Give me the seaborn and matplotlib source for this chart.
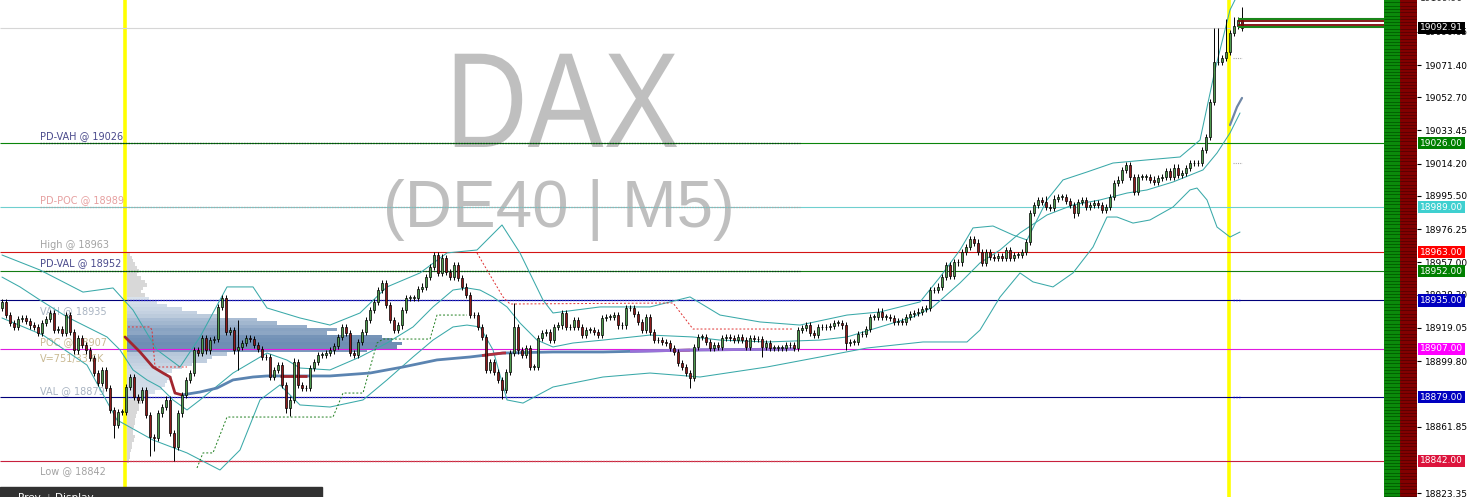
import numpy as np
import matplotlib
matplotlib.use("Agg")
import matplotlib.pyplot as plt
import seaborn as sns
from matplotlib.patches import Rectangle
from matplotlib.colors import LinearSegmentedColormap, Normalize
from matplotlib.transforms import blended_transform_factory, offset_copy, Affine2D
from matplotlib.patheffects import AbstractPathEffect

sns.set_style("white")
plt.rcParams['font.family'] = ['DejaVu Sans']

# ---- candles (DE40, M5), closes; open = previous close
first_open = 18930.5
close = [
    18934, 18926.5, 18922, 18919.5, 18924, 18925, 18923, 18920.5, 18919.5, 18916,
    18922, 18924, 18927.5, 18918, 18918.5, 18916, 18926.5, 18916.5, 18906, 18913,
    18909, 18906, 18901.5, 18893, 18887, 18894.5, 18884, 18871.5, 18863, 18870.5,
    18870.5, 18885, 18890.5, 18879, 18877.5, 18883, 18868.5, 18856, 18855.5, 18869.5,
    18873, 18877.5, 18858, 18850, 18869.5, 18880, 18889, 18893, 18906, 18904.5,
    18913, 18906, 18912,
    18912.5, 18931, 18936.5, 18916.5, 18918, 18906, 18908, 18910.5, 18913, 18912.5,
    18909, 18907, 18902, 18902, 18890.5, 18894.5, 18897.5, 18886, 18872.5, 18877.5,
    18899.5, 18886, 18884, 18884, 18896, 18899.5, 18903.5, 18903.5, 18904.5, 18906,
    18908.5, 18914, 18919.5, 18916, 18904.5, 18903.5, 18911, 18916.5, 18923.5, 18929.5,
    18934, 18941, 18945, 18932.5, 18923.5, 18918, 18920.5, 18929.5, 18936.5, 18936.5,
    18936.5, 18941.5, 18943, 18948.5, 18954.5, 18961.5, 18951, 18959.5, 18951.5, 18948.5,
    18955.5, 18948, 18943, 18938, 18926.5, 18926.5, 18919.5,
    18914, 18894.5, 18899.5, 18893.5, 18889, 18883, 18893.5, 18904.5, 18919.5, 18906,
    18903.5, 18907.5, 18896.5, 18896.5, 18913, 18916, 18916.5, 18912, 18919.5, 18920.5,
    18927.5, 18919.5, 18919.5, 18923.5, 18919.5, 18915, 18918, 18918, 18916.5, 18915,
    18925, 18925.5, 18925.5, 18926.5, 18920.5, 18920.5, 18930.5, 18930.5, 18927, 18922.5,
    18918, 18925.5, 18916.5, 18912, 18912, 18911, 18910.5, 18907.5, 18905, 18898.5,
    18896.5, 18893, 18890, 18908, 18914, 18914, 18911, 18907.5, 18909, 18908,
    18913, 18914, 18913, 18912, 18914, 18912, 18908, 18913, 18912.5, 18912.5,
    18908, 18910.5, 18907.5, 18907.5, 18907.5, 18907.5, 18909, 18909, 18907.5, 18918,
    18919, 18920.5, 18916, 18915, 18919.5,
    18919.5, 18919.5, 18920, 18922, 18922, 18920.5, 18910.5, 18911, 18911, 18915.5,
    18915.5, 18918.5, 18925.5, 18925.5, 18928.5, 18925.5, 18925.5, 18925, 18922.5, 18923,
    18922.5, 18925.5, 18927, 18927.5, 18928.5, 18930, 18930.5, 18941, 18941, 18943,
    18948.5, 18955.5, 18949, 18957, 18957, 18963, 18966, 18970.5, 18968.5, 18963,
    18956.5, 18963, 18960, 18959.5, 18960.5, 18959.5, 18964, 18959.5, 18961.5, 18961.5,
    18963, 18969, 18985.5, 18990.5, 18993, 18992, 18989, 18988.5, 18994, 18995,
    18995, 18992.5, 18990.5, 18985.5, 18992, 18993, 18989, 18990.5, 18991.5, 18990.5,
    18987.5, 18989, 18995, 19003, 19005, 19010.5, 19013.5, 19006.5, 18998, 19006.5,
    19006.5, 19006.5, 19005, 19003.5, 19006, 19006.5, 19010, 19006.5, 19012, 19007.5,
    19009, 19011.5, 19014.5, 19014.5, 19014.5, 19022,
    19029.5, 19050, 19073, 19073, 19075.5, 19079, 19090, 19094, 19097.5, 19093,
]
# long wicks that stand out (bar index: price); other wicks are short
wick_high = {59: 18923.5, 73: 18901.5, 108: 18963, 110: 18962, 128: 18933.5,
             242: 18972.5, 261: 18995.5, 303: 19093, 304: 19093, 306: 19098,
             308: 19099, 310: 19105}
wick_low = {28: 18855, 37: 18845, 38: 18848, 43: 18842, 59: 18894.5, 71: 18869.5,
            72: 18868, 125: 18878, 172: 18884, 190: 18902, 211: 18906, 268: 18983,
            302: 19028}

# ---- bollinger bands (bar index, price)
bb_up_x = [0, 9.5, 20.25, 27.75, 32.75, 38.75, 44.5, 49.5, 56.25, 62.75, 66.25, 74.5, 82,
           89.5, 96.25, 104.5, 111.25, 118.75, 125, 129.5, 135.25, 137.75, 149.5, 162, 172,
           179.5, 189.5, 199.5, 211.25, 219.5, 229.5, 234.5, 239.5, 242.75, 247.75, 252.75,
           256.25, 261.25, 265.25, 271.25, 277.75, 286.25, 294.5, 299.5, 303.25, 307, 309.5]
bb_up = [18961.3, 18952.6, 18939.8, 18942.2, 18929.4, 18906.3, 18896.4, 18913.8, 18942.8,
         18942.8, 18930.6, 18924.8, 18920.7, 18927.7, 18942.8, 18950.9, 18962.5, 18964.2,
         18978.7, 18962.5, 18935.2, 18927.7, 18931.2, 18931.2, 18937, 18926.5, 18922.5,
         18920.7, 18926.5, 18928.3, 18934.1, 18948.5, 18964.2, 18977, 18978.1, 18972.9,
         18970, 18993.2, 19004.8, 19009.4, 19014.6, 19016.4, 19018.1, 19027.9, 19068.5,
         19103.3, 19114.9]
bb_mid_x = [0, 4.5, 9.5, 16.25, 21.25, 26.25, 29.5, 32.75, 36.25, 39.5, 42.75, 46.25, 49.5,
            57.75, 66.25, 71.25, 74.5, 82, 89.5, 96.25, 102.75, 107.75, 112.75, 116.25, 119.5,
            122.75, 126.25, 129.5, 133.75, 137.75, 142.75, 150.25, 162, 172.75, 179.5, 191.25,
            204.5, 211.25, 219.5, 227.75, 232.75, 239.5, 244.5, 249.5, 254.5, 261.25, 267.75,
            274.5, 281.25, 286.25, 292.75, 300.25, 303.75, 307, 309.5]
bb_mid = [18948.5, 18942.8, 18935.2, 18925.4, 18919.6, 18913.8, 18906.3, 18894.7, 18888.9,
          18884.8, 18877.3, 18871.5, 18877.3, 18892.9, 18904.5, 18900.4, 18895.8, 18894.7,
          18902.2, 18910.3, 18919.6, 18931.2, 18941, 18942.2, 18941, 18937, 18931.2, 18921.9,
          18912, 18908, 18910.3, 18912, 18914.9, 18913.8, 18912, 18910.9, 18912, 18913.8,
          18919.6, 18925.4, 18931.2, 18945.1, 18956.7, 18964.2, 18974.1, 18984.5, 18990.3,
          18993.2, 18997.2, 18999, 19003.6, 19010.6, 19020.4, 19032, 19043.6]
bb_lo_x = [0, 10.25, 21.25, 28.75, 37.75, 46.25, 54.5, 59.5, 64.5, 69.5, 74.5, 82, 90.25,
           96.25, 102.75, 107.75, 112.75, 116.25, 119.5, 122.75, 126.25, 130.25, 137.75,
           150.25, 162, 174.5, 191.25, 204.5, 216.25, 230.25, 241.25, 244.5, 249.5, 254.5,
           257.75, 262.75, 267.75, 272.75, 276.25, 278.75, 282.75, 287, 292.75, 297, 298.75,
           301.25, 303.75, 307, 309.5]
bb_lo = [18924.8, 18914.9, 18897.5, 18865.7, 18854.1, 18846.6, 18836.7, 18848.3, 18877.3,
         18886, 18874.4, 18873.2, 18877.3, 18888.9, 18902.2, 18912, 18919.6, 18920.7, 18919.6,
         18906.3, 18877.3, 18875.5, 18884.8, 18890.6, 18892.9, 18890.6, 18896.4, 18902.2,
         18907.4, 18910.9, 18910.9, 18917.8, 18936.9, 18950.9, 18945.7, 18942.8, 18950.9,
         18965.9, 18983.3, 18983.3, 18979.8, 18981.6, 18989.1, 18999, 19000.1, 18993.2,
         18977.5, 18971.7, 18974.6]

# ---- session moving average
ma_red_x = [30.75, 34.5, 37.75, 40.25, 42, 43.25, 45]
ma_red = [18913.8, 18905.1, 18896.4, 18892.9, 18890.6, 18881.3, 18880.2]
ma_x = [45, 49.5, 53.75, 57.75, 62.75, 66.25, 82, 92, 100.25, 108.75, 117, 125.25, 137.75,
        150.25, 162, 174.5, 198.25]
ma = [18880.2, 18881.9, 18884.2, 18888.9, 18890.6, 18891.2, 18891.2, 18892.9, 18896.4,
      18900.5, 18902.2, 18904.5, 18905.1, 18905.1, 18905.7, 18906.3, 18906.8]
ma_tail_x = [307, 308.75, 310]
ma_tail = [19036.6, 19047.1, 19052.3]

# ---- trailing stop steps
stop_red1_x = [31.5, 37, 37.5, 38.25, 46.25]
stop_red1 = [18919.6, 18919.6, 18917.8, 18896.4, 18896.4]
stop_red2_x = [118.75, 121.25, 125.25, 127, 167.75, 172.75, 197.75]
stop_red2 = [18962.5, 18952.6, 18937, 18932.9, 18933.5, 18918.4, 18918.4]
stop_grn_x = [48.75, 50.25, 52.75, 56.25, 82.75, 85.25, 90.25, 93.75, 95.25, 107, 108.75, 116.25]
stop_grn = [18837.9, 18846.6, 18846.6, 18867.4, 18867.4, 18881.3, 18881.3, 18910.3, 18912.6,
            18912.6, 18926.5, 18926.5]

# ---- volume profile of the session (2-point bins, top to bottom)
prof_prices = list(range(18962, 18840, -2))
prof_volume = [3, 5, 6, 8, 10, 12, 10, 14, 18, 20, 16, 14, 18, 22, 30, 40, 55, 70, 90, 130,
               150, 180, 210, 200, 255, 265, 275, 270, 240, 100, 85, 80, 65, 55, 45, 40, 45,
               40, 38, 35, 28, 22, 15, 14, 12, 12, 10, 9, 8, 8, 7, 6, 6, 8, 7, 5, 5, 4, 3, 3, 2]
va_high, va_low = 18936, 18878

# ---- levels
levels = [19026, 18989, 18963, 18952, 18935, 18907, 18879, 18842]
level_colors = ['#0a850a', '#6fcfcf', '#d41414', '#137d13', '#00007a', '#e01ae0', '#00007a', '#c8203c']
level_box = ['#008000', '#3fd0d0', '#ff0000', '#008000', '#0000c0', '#ff00ff', '#0000c0', '#dc143c']
bid = 19092.91
labels = ['PD-VAH @ 19026', 'PD-POC @ 18989', 'High @ 18963', 'PD-VAL @ 18952', 'VAH @ 18935',
          'POC @ 18907', 'V=751/33.6K', 'VAL @ 18879', 'Low @ 18842']
label_colors = ['#4a4a8c', '#e6a0a0', '#a3a3a3', '#4a4a8c', '#a9b4c2', '#c9b992', '#c9b992',
                '#a9b4c2', '#a3a3a3']
label_y = [19030.3, 18993.2, 18967.1, 18956.4, 18928.8, 18910.9, 18901.3, 18882.5, 18835.8]
yticks = [18823.35, 18861.85, 18899.80, 18919.05, 18938.30, 18957.00,
          18976.25, 18995.50, 19014.20, 19033.45, 19052.70, 19071.40, 19090.65]

Y0, Y1 = 18821.06, 19109.07
X0, X1 = -0.5, 353.75


class Squeeze(AbstractPathEffect):
    """Narrow the watermark glyphs horizontally around a centre (display px)."""

    def __init__(self, sx, cx):
        super().__init__()
        self.sx, self.cx = sx, cx

    def draw_path(self, renderer, gc, tpath, affine, rgbFace=None):
        a = affine + Affine2D().translate(-self.cx, 0).scale(self.sx, 1).translate(self.cx, 0)
        renderer.draw_path(gc, tpath, a, rgbFace)


fig = plt.figure(figsize=(14.69, 4.97), dpi=100)
ax = fig.add_axes([0, 0, 1417 / 1469, 1])
ax.set_xlim(X0, X1)
ax.set_ylim(Y0, Y1)
for s in ax.spines.values():
    s.set_visible(False)

# background watermark
cx = ax.transData.transform((140.1, 19000))[0]
ax.text(140.1, 19023.9, 'DAX', ha='center', va='baseline', fontsize=97.6, color='#bfbfbf',
        family=['Liberation Sans', 'DejaVu Sans'], zorder=0.5,
        path_effects=[Squeeze(0.84, cx)])
ax.text(139.25, 18977.5, '(DE40 | M5)', ha='center', va='baseline', fontsize=47.2, color='#bfbfbf',
        family=['Liberation Sans', 'DejaVu Sans'], zorder=0.5)

# session separators
ax.axvline(30.75, color='#ffff00', lw=2.6, zorder=1)
ax.axvline(306.75, color='#ffff00', lw=2.6, zorder=1)

# profile
cmap = LinearSegmentedColormap.from_list('prof', ['#e1e8f0', '#6e8eb4'])
norm = Normalize(0, max(prof_volume))
pp = np.array(prof_prices, float)
pv = np.array(prof_volume, float)
in_va = (pp <= va_high) & (pp >= va_low)
cols = [cmap(norm(v)) if f else '#d8d8d8' for v, f in zip(pv, in_va)]
ax.barh(pp, pv * 0.25, left=31.25, height=2.0, color=cols, linewidth=0, zorder=2)

# level lines
ax.hlines(levels, X0, X1, colors=level_colors, lw=0.8, zorder=3)
ax.hlines(bid, X0, 307, colors='#d6d6d6', lw=0.8, zorder=3)
ax.hlines([19026, 18952], 9.5, 199.5, colors='#0b3b1b', lw=0.9, linestyles=(0, (1.2, 1.0)), zorder=3.1)
ax.hlines(18989, 9.5, 199.5, colors='#a8a8a8', lw=0.9, linestyles=(0, (1.2, 1.0)), zorder=3.1)
ax.hlines([18935, 18879], 31.25, 199.5, colors='#2a2ad0', lw=0.9, linestyles=(0, (1.2, 1.0)), zorder=3.1)
ax.hlines(18842, 31.25, 199.5, colors='#d04050', lw=0.9, linestyles=(0, (1.2, 1.0)), zorder=3.1)
ax.hlines([19075.5, 19014.6], 307.75, 310, colors='#aaaaaa', lw=0.8, linestyles=(0, (1, 1)), zorder=3)
ax.hlines([18935, 18879], 307.75, 309.5, colors='#0000cc', lw=1.0, linestyles=(0, (1, 1)), zorder=3)

# level labels
for t, c, y in zip(labels, label_colors, label_y):
    ax.text(9.5, y, t, fontsize=7, color=c, va='center', ha='left', zorder=3.5)

# bands, average, stops
for bx, by in [(bb_up_x, bb_up), (bb_mid_x, bb_mid), (bb_lo_x, bb_lo)]:
    sns.lineplot(x=bx, y=by, ax=ax, color='#3aa9a9', lw=0.75, sort=False, estimator=None, zorder=4)
sns.lineplot(x=ma_x, y=ma, ax=ax, color='#5b84b1', lw=2.0, sort=False, estimator=None, zorder=4.2)
sns.lineplot(x=ma_red_x, y=ma_red, ax=ax, color='#a2262e', lw=2.0, sort=False, estimator=None, zorder=4.2)
sns.lineplot(x=ma_tail_x, y=ma_tail, ax=ax, color='#6f87a6', lw=1.6, sort=False, estimator=None, zorder=4.2)
for a, b, col in [(69.5, 76.25, '#a2262e'), (120, 126, '#b03040'), (167.75, 172, '#c04050'),
                  (157, 198.25, '#9a70d8')]:
    xs = np.linspace(a, b, 8)
    ax.plot(xs, np.interp(xs, ma_x, ma), color=col, lw=2.0, zorder=4.3, solid_capstyle='butt')
for sx, sy, col in [(stop_red1_x, stop_red1, '#e03030'), (stop_red2_x, stop_red2, '#e03030'),
                    (stop_grn_x, stop_grn, '#1f7f1f')]:
    ax.plot(sx, sy, color=col, lw=0.7, dashes=(2, 2), zorder=4.1)

# candles
c = np.array(close, float)
o = np.r_[first_open, c[:-1]]
idx = np.arange(len(c))
top = np.maximum(o, c)
bot = np.minimum(o, c)
hi = top + 1.8
lo = bot - 1.8
for k, v in wick_high.items():
    hi[k] = v
for k, v in wick_low.items():
    lo[k] = v
up = c >= o
ax.vlines(idx, lo, hi, color='black', lw=0.7, zorder=5)
h = np.maximum(top - bot, 0.3)
ax.bar(idx[up], h[up], bottom=bot[up], width=0.72, color='#4f9b4f', edgecolor='black', lw=0.5, zorder=6)
ax.bar(idx[~up], h[~up], bottom=bot[~up], width=0.72, color='#8e1b1b', edgecolor='black', lw=0.5, zorder=6)

# bid / ask markers at the right
ax.hlines([19098.2, 19093.3], 309, 345.5, colors='#1a861a', lw=1.5, zorder=6)
ax.hlines([19096.9, 19094.4], 309, 345.5, colors='#7d0a0a', lw=1.3, zorder=6)

# depth column
ax.add_patch(Rectangle((345.5, Y0), 4.0, Y1 - Y0, color='#0b8a0b', zorder=8, lw=0))
ax.add_patch(Rectangle((349.5, Y0), X1 - 349.5, Y1 - Y0, color='#820000', zorder=8, lw=0))
rows = np.arange(Y0 + 0.6, Y1, 1.92)
ax.hlines(rows, 345.5, 349.5, colors='#005c00', lw=0.6, zorder=8.5)
ax.hlines(rows, 349.5, X1, colors='#560000', lw=0.6, zorder=8.5)

# price scale
ax.set_xticks([])
ax.yaxis.tick_right()
ax.set_yticks(yticks)
ax.set_yticklabels([f'{t:.2f}' for t in yticks])
ax.tick_params(axis='y', length=3, width=0.8, pad=2.5, labelsize=6.5, colors='black', direction='out')
trans = offset_copy(blended_transform_factory(ax.transAxes, ax.transData), fig=fig, x=3, y=0, units='dots')
ax.text(1.0, 19109.90, '19109.90', transform=trans, fontsize=6.5, va='center', ha='left',
        clip_on=False, zorder=9)


def price_box(p, txt, fc):
    ax.text(1.0, p, txt, transform=trans, fontsize=6.5, color='white', va='center', ha='left',
            bbox=dict(boxstyle='square,pad=0.18', fc=fc, ec='none'), clip_on=False, zorder=20)


price_box(bid, f'{bid:.2f}', '#000000')
for p, fc in zip(levels, level_box):
    price_box(p, f'{p:.2f}', fc)

# panel tab at the bottom left
fig.add_artist(Rectangle((0, 0), 322 / 1469, 10 / 497, transform=fig.transFigure,
                         color='#323232', zorder=30))
fig.text(18 / 1469, -4 / 497, 'Prev', color='white', fontsize=7.5, va='baseline', zorder=31)
fig.text(47 / 1469, -4 / 497, '|', color='#9a9a9a', fontsize=7.5, va='baseline', zorder=31)
fig.text(55 / 1469, -4 / 497, 'Display', color='white', fontsize=7.5, va='baseline', zorder=31)

fig.savefig('out.png', dpi=100)
